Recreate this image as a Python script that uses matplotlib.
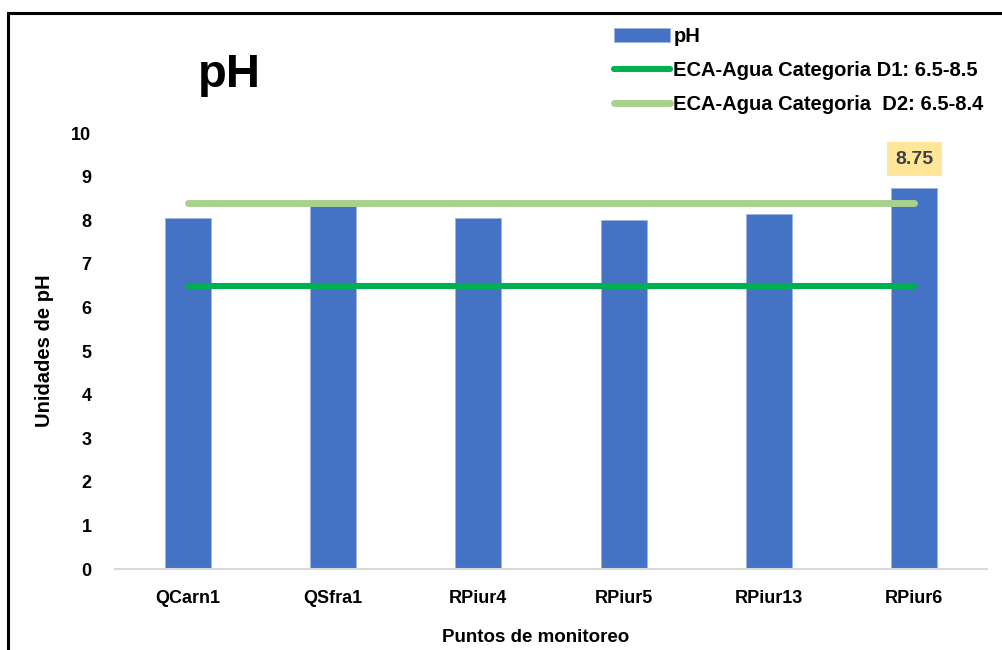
import matplotlib.pyplot as plt
from matplotlib.patches import Rectangle

# data
puntos = ["QCarn1", "QSfra1", "RPiur4", "RPiur5", "RPiur13", "RPiur6"]
ph = [8.05, 8.35, 8.05, 8.0, 8.15, 8.75]
eca_d1 = [6.5, 6.5, 6.5, 6.5, 6.5, 6.5]
eca_d2 = [8.4, 8.4, 8.4, 8.4, 8.4, 8.4]
yticks = [0, 1, 2, 3, 4, 5, 6, 7, 8, 9, 10]

plt.rcParams["font.family"] = ["Liberation Sans", "DejaVu Sans"]
plt.rcParams["font.weight"] = "bold"

fig = plt.figure(figsize=(10.03, 6.5), dpi=100)
ax = fig.add_axes([115 / 1003, 1 - 569 / 650, 872 / 1003, 436 / 650])

x = list(range(len(puntos)))
bars = ax.bar(x, ph, width=0.317, color="#4472C4", edgecolor="#9DB5E3",
              linewidth=0.6, label="pH", zorder=2)
l1, = ax.plot(x, eca_d1, color="#00B050", linewidth=4.4, solid_capstyle="round",
              label="ECA-Agua Categoria D1: 6.5-8.5", zorder=3)
l2, = ax.plot(x, eca_d2, color="#A9D18E", linewidth=5.0, solid_capstyle="round",
              label="ECA-Agua Categoria  D2: 6.5-8.4", zorder=3)

# label on the highest bar
ax.annotate(f"{ph[-1]:.2f}", xy=(x[-1], ph[-1]), xytext=(0, 20.5),
            textcoords="offset points", ha="center", va="center",
            fontsize=14, fontweight="bold", color="#404040",
            bbox=dict(boxstyle="square,pad=0.42", fc="#FFE699", ec="none"))

ax.set_xlim(-0.5, len(puntos) - 0.5)
ax.set_ylim(0, 10)
ax.set_yticks(yticks)
ax.set_xticks(x)
ax.set_xticklabels(puntos)
ax.tick_params(axis="y", length=0, pad=17, labelsize=13)
ax.tick_params(axis="x", length=0, pad=15, labelsize=13)
for s in ["top", "right", "left"]:
    ax.spines[s].set_visible(False)
ax.spines["bottom"].set_color("#D9D9D9")
ax.spines["bottom"].set_linewidth(1.5)

ax.set_ylabel("Unidades de pH", fontsize=14.5, fontweight="bold")
ax.yaxis.set_label_coords(-0.07, 0.50)
ax.set_xlabel("Puntos de monitoreo", fontsize=13.5, fontweight="bold")
ax.xaxis.set_label_coords(0.482, -0.138)

fig.text(229 / 1003, 1 - 75 / 650, "pH", fontsize=34, fontweight="bold",
         ha="center", va="center")

fig.legend([bars, l1, l2], [bars.get_label(), l1.get_label(), l2.get_label()],
           loc="upper left", bbox_to_anchor=(604 / 1003, 1 - 17 / 650),
           frameon=False, fontsize=14.5, handlelength=2.8, handletextpad=0.15,
           labelspacing=0.75, borderpad=0)

# outer frame, partly cut off at right and bottom like the source image
fig.patches.append(Rectangle((8 / 1003, -0.1), 1.2, 1.1 - 13 / 650,
                             transform=fig.transFigure, fill=False,
                             ec="black", lw=2.2, clip_on=False))

plt.savefig("out.png", dpi=100)
